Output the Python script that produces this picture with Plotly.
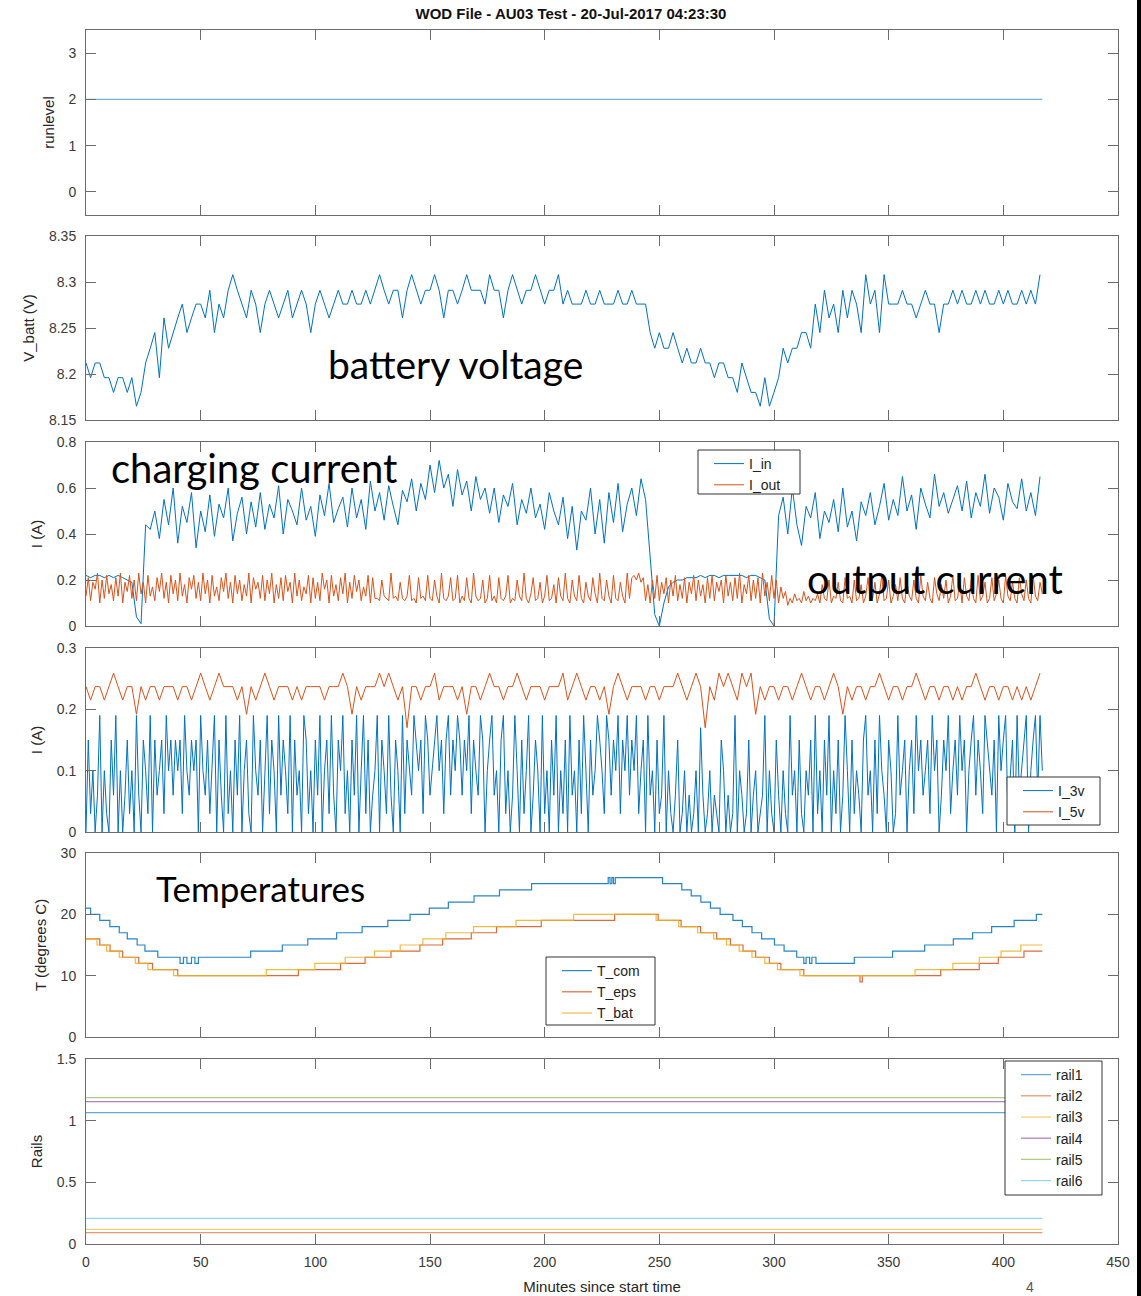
import plotly.graph_objects as go

# ---------------- data ----------------
run_t = [0, 417]
runlevel = [2, 2]

# sampled every 2 minutes
v_batt = [
    8.212, 8.196, 8.212, 8.212, 8.196,
    8.196, 8.18, 8.196, 8.196, 8.18, 8.196,
    8.165, 8.18, 8.212, 8.228,
    8.245, 8.196, 8.261, 8.228, 8.245, 8.261,
    8.276, 8.245, 8.261, 8.276,
    8.276, 8.261, 8.291, 8.245, 8.276, 8.261, 8.291, 8.308,
    8.291, 8.276, 8.261, 8.291, 8.276, 8.245, 8.276, 8.291, 8.276, 8.261,
    8.276, 8.291, 8.261, 8.276, 8.291, 8.276, 8.245, 8.276, 8.291, 8.276,
    8.261, 8.276, 8.291,
    8.276, 8.276, 8.291, 8.276, 8.276, 8.291, 8.276,
    8.291, 8.308, 8.291, 8.276, 8.291, 8.291, 8.261, 8.291, 8.308, 8.291,
    8.276, 8.291, 8.291, 8.308, 8.291, 8.261, 8.291, 8.291, 8.276, 8.291,
    8.308, 8.291, 8.291, 8.291, 8.276, 8.308, 8.291, 8.291, 8.261, 8.291,
    8.308, 8.291, 8.276, 8.291, 8.291, 8.308, 8.291, 8.276, 8.291, 8.291,
    8.308,
    8.276, 8.291, 8.276, 8.276, 8.276, 8.291, 8.276, 8.276, 8.291, 8.276,
    8.276, 8.276, 8.291, 8.276, 8.276, 8.291, 8.276, 8.276, 8.276,
    8.245,
    8.228, 8.245, 8.228, 8.228, 8.245,
    8.228, 8.212, 8.228, 8.212, 8.212, 8.228, 8.212,
    8.212, 8.196, 8.212, 8.212, 8.196,
    8.196, 8.18, 8.212, 8.196, 8.18,
    8.18, 8.165, 8.196, 8.165, 8.18,
    8.196,
    8.228, 8.212, 8.228, 8.228, 8.245,
    8.245, 8.228,
    8.276, 8.245, 8.291, 8.261, 8.276, 8.245, 8.291, 8.261,
    8.291, 8.276, 8.245, 8.308, 8.276, 8.291, 8.245, 8.308, 8.276,
    8.276, 8.276, 8.291, 8.276, 8.276, 8.261, 8.276, 8.291, 8.276, 8.276,
    8.245, 8.276, 8.276,
    8.291, 8.276, 8.291, 8.276, 8.276, 8.291, 8.276, 8.291, 8.276, 8.276,
    8.291, 8.276, 8.291, 8.276, 8.276, 8.291, 8.276, 8.291, 8.276, 8.308,
]

# sampled every 2 minutes
i_in = [
    0.22, 0.21, 0.22, 0.22, 0.21, 0.22, 0.21, 0.22, 0.21, 0.2, 0.19,
    0.04, 0.01, 0.44,
    0.42, 0.5, 0.38, 0.55, 0.44, 0.6, 0.36, 0.52, 0.45, 0.58,
    0.34, 0.5, 0.41, 0.57, 0.39, 0.53, 0.47, 0.6, 0.37, 0.49,
    0.56, 0.4, 0.54, 0.43,
    0.58, 0.42, 0.53, 0.47, 0.61, 0.4, 0.55, 0.5, 0.44, 0.6,
    0.46, 0.52, 0.39, 0.57, 0.48, 0.62, 0.45, 0.51, 0.56, 0.43,
    0.6, 0.47, 0.55, 0.42, 0.63, 0.5, 0.58, 0.46, 0.61, 0.52,
    0.44, 0.59, 0.54, 0.64, 0.5,
    0.62, 0.55, 0.7, 0.58, 0.72, 0.6, 0.66, 0.52, 0.68, 0.57,
    0.63, 0.5, 0.65, 0.55, 0.6,
    0.49, 0.6, 0.45, 0.57, 0.52, 0.62, 0.44, 0.55, 0.49, 0.6,
    0.47, 0.53, 0.42, 0.58, 0.5,
    0.44, 0.56, 0.38, 0.52, 0.33, 0.5, 0.46, 0.6, 0.4, 0.55,
    0.36, 0.58, 0.45, 0.62, 0.41, 0.53, 0.6, 0.48, 0.64,
    0.55, 0.3, 0.05, 0.0, 0.1, 0.17, 0.19,
    0.2, 0.2, 0.21, 0.21, 0.21, 0.22, 0.21, 0.22, 0.22, 0.21,
    0.22, 0.22, 0.22, 0.22, 0.22, 0.21, 0.22, 0.22, 0.21,
    0.2, 0.03, 0.0, 0.48,
    0.56, 0.4, 0.6, 0.44, 0.35, 0.52, 0.47, 0.58, 0.38, 0.5,
    0.45, 0.55, 0.41, 0.6, 0.43, 0.5, 0.37, 0.54, 0.48,
    0.58, 0.44, 0.52, 0.62, 0.46, 0.55, 0.48, 0.65, 0.5, 0.57,
    0.42, 0.6, 0.53, 0.47, 0.66, 0.52, 0.58, 0.49, 0.55, 0.61,
    0.5, 0.63, 0.47, 0.58, 0.52, 0.66, 0.49, 0.6, 0.56, 0.46,
    0.62, 0.54, 0.51, 0.64, 0.5, 0.58, 0.48, 0.65,
]

# sampled every minute
i_out = [
    0.13, 0.21, 0.11, 0.19, 0.16, 0.23, 0.1, 0.2, 0.12, 0.22, 0.14, 0.18, 0.11, 0.21, 0.13, 0.23, 0.1, 0.19, 0.15, 0.22,
    0.12, 0.2, 0.11, 0.23, 0.14, 0.19, 0.1, 0.22, 0.13, 0.17, 0.11, 0.21, 0.15, 0.23, 0.12, 0.19, 0.1, 0.22, 0.14, 0.2,
    0.11, 0.23, 0.13, 0.18, 0.1, 0.21, 0.16, 0.22, 0.12, 0.19, 0.11, 0.23, 0.14, 0.2, 0.1, 0.22, 0.13, 0.17, 0.11, 0.21,
    0.15, 0.23, 0.12, 0.19, 0.1, 0.22, 0.14, 0.2, 0.11, 0.18, 0.13, 0.23, 0.1, 0.21, 0.16, 0.19, 0.12, 0.22, 0.11, 0.2,
    0.14, 0.23, 0.1, 0.18, 0.12, 0.21, 0.11, 0.22, 0.15, 0.19, 0.1, 0.23, 0.13, 0.2, 0.11, 0.17, 0.14, 0.22, 0.1, 0.21,
    0.12, 0.19, 0.11, 0.23, 0.16, 0.2, 0.1, 0.22, 0.13, 0.18, 0.11, 0.21, 0.14, 0.23, 0.1, 0.19, 0.12, 0.22, 0.15, 0.2,
    0.11, 0.17, 0.13, 0.22, 0.1, 0.21, 0.12, 0.12, 0.11, 0.2, 0.13, 0.12, 0.11, 0.23, 0.12, 0.13, 0.11, 0.19, 0.12, 0.11,
    0.13, 0.22, 0.11, 0.12, 0.1, 0.21, 0.12, 0.13, 0.11, 0.22, 0.12, 0.11, 0.2, 0.13, 0.1, 0.23, 0.12, 0.11, 0.13, 0.21,
    0.11, 0.12, 0.22, 0.1, 0.13, 0.11, 0.21, 0.12, 0.1, 0.23, 0.13, 0.11, 0.12, 0.2, 0.1, 0.12, 0.22, 0.11, 0.13, 0.1,
    0.21, 0.12, 0.11, 0.13, 0.22, 0.1, 0.12, 0.11, 0.2, 0.13, 0.11, 0.23, 0.12, 0.1, 0.14, 0.21, 0.11, 0.12, 0.19, 0.1,
    0.13, 0.22, 0.11, 0.12, 0.18, 0.1, 0.21, 0.13, 0.11, 0.23, 0.12, 0.1, 0.2, 0.13, 0.11, 0.22, 0.12, 0.1, 0.19, 0.13,
    0.11, 0.21, 0.14, 0.1, 0.23, 0.12, 0.11, 0.2, 0.13, 0.1, 0.22, 0.12, 0.11, 0.19, 0.13, 0.1, 0.23, 0.12, 0.21, 0.22,
    0.2, 0.23, 0.19, 0.21, 0.11, 0.18, 0.1, 0.2, 0.12, 0.22, 0.11, 0.19, 0.14, 0.21, 0.1, 0.2, 0.13, 0.22, 0.11, 0.18,
    0.12, 0.21, 0.1, 0.19, 0.14, 0.22, 0.11, 0.2, 0.13, 0.18, 0.1, 0.21, 0.12, 0.22, 0.11, 0.19, 0.15, 0.2, 0.1, 0.22,
    0.13, 0.19, 0.11, 0.21, 0.12, 0.23, 0.1, 0.18, 0.14, 0.22, 0.11, 0.2, 0.12, 0.21, 0.1, 0.23, 0.13, 0.19, 0.11, 0.22,
    0.12, 0.2, 0.1, 0.17, 0.12, 0.15, 0.09, 0.12, 0.1, 0.14, 0.11, 0.12, 0.1, 0.15, 0.11, 0.13, 0.1, 0.12, 0.11, 0.14,
    0.1, 0.18, 0.12, 0.11, 0.2, 0.1, 0.13, 0.12, 0.19, 0.11, 0.1, 0.21, 0.12, 0.13, 0.1, 0.2, 0.11, 0.12, 0.18, 0.1,
    0.13, 0.21, 0.11, 0.12, 0.19, 0.1, 0.14, 0.22, 0.11, 0.12, 0.2, 0.1, 0.13, 0.18, 0.11, 0.21, 0.12, 0.1, 0.19, 0.13,
    0.11, 0.2, 0.12, 0.1, 0.22, 0.13, 0.11, 0.19, 0.12, 0.1, 0.21, 0.14, 0.11, 0.18, 0.12, 0.2, 0.1, 0.13, 0.22, 0.11,
    0.12, 0.19, 0.1, 0.21, 0.13, 0.11, 0.2, 0.12, 0.1, 0.22, 0.11, 0.13, 0.19, 0.1, 0.12, 0.21, 0.11, 0.14, 0.2, 0.12,
    0.1, 0.22, 0.13, 0.11, 0.19, 0.12, 0.1, 0.21, 0.14, 0.11, 0.2, 0.12, 0.1, 0.22, 0.13, 0.11, 0.19, 0.14,
]

# sampled every minute
i_3v = [
    0, 0.15, 0.03, 0.1, 0, 0.06, 0.19, 0, 0.1, 0.03, 0, 0.15, 0.06, 0.19, 0, 0.1, 0, 0.06, 0.15, 0.03,
    0.1, 0, 0.19, 0.06, 0, 0.15, 0.1, 0.03, 0.19, 0, 0.15, 0.06, 0.1, 0.15, 0.03, 0.19, 0.1, 0.15, 0.06, 0.15,
    0.1, 0.15, 0.03, 0.19, 0.1, 0.06, 0.15, 0.1, 0.15, 0, 0.19, 0.1, 0.06, 0.15, 0.03, 0.1, 0.19, 0, 0.15, 0.06,
    0, 0.19, 0.03, 0.1, 0, 0.15, 0.06, 0.19, 0, 0.1, 0.15, 0.03, 0, 0.19, 0.1, 0.06, 0.15, 0, 0.1, 0.19,
    0.03, 0.15, 0.1, 0, 0.19, 0.06, 0.15, 0.1, 0.03, 0.19, 0, 0.15, 0.06, 0.1, 0, 0.19, 0.15, 0.03, 0.1, 0,
    0.15, 0.06, 0.19, 0, 0.1, 0.15, 0.03, 0.19, 0.06, 0, 0.15, 0.1, 0.19, 0.03, 0.1, 0, 0.15, 0.06, 0.19, 0,
    0.1, 0.19, 0.03, 0.15, 0, 0.06, 0.1, 0.19, 0, 0.15, 0.1, 0.03, 0.19, 0.06, 0, 0.15, 0.1, 0, 0.19, 0.03,
    0.15, 0.1, 0.06, 0.19, 0.15, 0.1, 0.15, 0.03, 0.19, 0.15, 0.06, 0.1, 0.15, 0.19, 0.1, 0.15, 0.03, 0.15, 0.19, 0.06,
    0.15, 0.1, 0.19, 0.15, 0.06, 0.15, 0.1, 0.19, 0.03, 0.15, 0.1, 0.06, 0.19, 0.15, 0, 0.1, 0.15, 0.19, 0.06, 0.1,
    0, 0.15, 0.19, 0.03, 0.1, 0, 0.06, 0.19, 0.1, 0, 0.15, 0.03, 0.1, 0.19, 0, 0.06, 0.15, 0.1, 0, 0.19,
    0.03, 0.1, 0, 0.15, 0.06, 0.19, 0, 0.1, 0.03, 0.15, 0, 0.19, 0.06, 0.1, 0, 0.15, 0.03, 0.19, 0.1, 0,
    0.15, 0.06, 0.1, 0.19, 0.15, 0.1, 0.03, 0.19, 0.15, 0.06, 0.15, 0.1, 0.19, 0.03, 0.15, 0.1, 0.19, 0.06, 0.15, 0.1,
    0.19, 0.03, 0.1, 0.15, 0, 0.19, 0.06, 0.1, 0, 0.15, 0.03, 0.06, 0.19, 0, 0.1, 0.03, 0, 0.06, 0.15, 0,
    0.03, 0.1, 0, 0.06, 0, 0.03, 0.1, 0, 0.17, 0.06, 0, 0.03, 0.1, 0, 0.06, 0.03, 0, 0.15, 0.1, 0,
    0.06, 0, 0.03, 0.19, 0, 0.1, 0.06, 0, 0.03, 0.15, 0, 0.06, 0.1, 0, 0.03, 0.06, 0.19, 0, 0.1, 0.03,
    0, 0.15, 0.06, 0, 0.1, 0.03, 0, 0.19, 0.06, 0.1, 0, 0.15, 0.03, 0, 0.1, 0.06, 0.15, 0, 0.19, 0.03,
    0.1, 0, 0.15, 0.06, 0.19, 0, 0.1, 0.03, 0.15, 0, 0.06, 0.19, 0.1, 0, 0.15, 0.03, 0.1, 0.06, 0, 0.15,
    0.19, 0.06, 0.1, 0, 0.15, 0.03, 0.19, 0.1, 0.06, 0, 0.15, 0.1, 0, 0.03, 0.19, 0.06, 0.1, 0.15, 0, 0.1,
    0.15, 0.03, 0.19, 0.1, 0.15, 0.06, 0.1, 0.15, 0.03, 0.19, 0.1, 0.15, 0, 0.06, 0.15, 0.1, 0.19, 0.03, 0.1, 0.15,
    0.06, 0.19, 0.1, 0.15, 0, 0.1, 0.15, 0.19, 0.06, 0.15, 0.1, 0.03, 0.19, 0.15, 0.1, 0.06, 0.15, 0, 0.19, 0.1,
    0.15, 0.19, 0.03, 0.1, 0.15, 0, 0.19, 0.06, 0.1, 0.15, 0.19, 0, 0.1, 0.15, 0.19, 0.06, 0.19, 0.1,
]

# sampled every 2 minutes
i_5v = [
    0.237, 0.215, 0.237, 0.237, 0.215, 0.237, 0.259, 0.237, 0.215, 0.237, 0.237, 0.192, 0.237, 0.215, 0.237, 0.237, 0.215, 0.237, 0.237, 0.237,
    0.215, 0.237, 0.237, 0.215, 0.237, 0.259, 0.237, 0.215, 0.237, 0.259, 0.237, 0.237, 0.237, 0.215, 0.237, 0.192, 0.237, 0.215, 0.237, 0.259,
    0.237, 0.215, 0.237, 0.237, 0.237, 0.215, 0.237, 0.215, 0.237, 0.237, 0.237, 0.237, 0.215, 0.237, 0.237, 0.237, 0.259, 0.237, 0.192, 0.237,
    0.215, 0.237, 0.237, 0.237, 0.259, 0.237, 0.259, 0.237, 0.215, 0.237, 0.17, 0.237, 0.237, 0.215, 0.237, 0.237, 0.259, 0.215, 0.237, 0.237,
    0.237, 0.215, 0.237, 0.192, 0.237, 0.237, 0.215, 0.237, 0.259, 0.237, 0.237, 0.215, 0.237, 0.237, 0.259, 0.237, 0.215, 0.237, 0.237, 0.237,
    0.215, 0.237, 0.237, 0.237, 0.259, 0.215, 0.237, 0.259, 0.237, 0.215, 0.237, 0.237, 0.215, 0.237, 0.192, 0.237, 0.259, 0.237, 0.215, 0.237,
    0.237, 0.237, 0.215, 0.237, 0.237, 0.215, 0.237, 0.237, 0.237, 0.259, 0.237, 0.215, 0.237, 0.259, 0.237, 0.17, 0.237, 0.215, 0.259, 0.237,
    0.259, 0.237, 0.215, 0.259, 0.237, 0.259, 0.192, 0.237, 0.215, 0.237, 0.237, 0.215, 0.237, 0.237, 0.215, 0.237, 0.259, 0.237, 0.215, 0.237,
    0.237, 0.215, 0.237, 0.259, 0.237, 0.192, 0.237, 0.215, 0.237, 0.237, 0.215, 0.237, 0.237, 0.259, 0.237, 0.215, 0.237, 0.237, 0.215, 0.237,
    0.237, 0.259, 0.237, 0.215, 0.237, 0.237, 0.215, 0.237, 0.237, 0.215, 0.237, 0.215, 0.237, 0.237, 0.259, 0.237, 0.215, 0.237, 0.237, 0.215,
    0.237, 0.237, 0.215, 0.237, 0.215, 0.237, 0.215, 0.237, 0.259,
]

t_com_t = [0, 2, 6, 10.4, 14.5, 18, 22.3, 25.7, 31.3, 41, 42.5, 44, 46, 47.5, 49, 71.8, 85.6, 96.7, 109.3, 120.4,
           131.6, 141.3, 149.7, 158, 169.2, 180.3, 194.3, 227.7, 228.5, 229.3, 230, 230.8, 251.4, 259.8, 263.9,
           268.1, 272.3, 276.5, 282.1, 286.2, 290.4, 294.6, 300.2, 304.4, 309.9, 313, 314, 315.5, 316.5, 318.3,
           335, 351.7, 365.7, 378.2, 386.6, 394.9, 404.7, 414.4, 417]
t_com_v = [21, 20, 19, 18, 17, 16, 15, 14, 13, 12, 13, 12, 13, 12, 13, 14, 15, 16, 17, 18,
           19, 20, 21, 22, 23, 24, 25, 26, 25, 26, 25, 26, 25, 24, 23,
           22, 21, 20, 19, 18, 17, 16, 15, 14, 13, 12, 13, 12, 13, 12,
           13, 14, 15, 16, 17, 18, 19, 20, 20]

t_eps_t = [0, 6, 10.5, 16, 23, 29, 40, 92.6, 111, 121.7, 133, 145.6, 155.5, 168, 179, 198.5, 230.5, 249.5,
           259.5, 268, 275, 281, 286.5, 292, 298, 303, 313, 337.5, 338.5, 372.7, 389.5, 397.8, 409, 417]
t_eps_v = [16, 15, 14, 13, 12, 11, 10, 11, 12, 13, 14, 15, 16, 17, 18, 19, 20, 19,
           18, 17, 16, 15, 14, 13, 12, 11, 10, 9, 10, 11, 12, 13, 14, 14]

t_bat_t = [0, 4.8, 9, 14.5, 21.5, 27, 38.2, 78.6, 99.8, 113, 125.8, 137, 146.9, 156.9, 169, 187.5, 212.6,
           248.6, 258.4, 266.7, 273.7, 279.3, 284.8, 290.4, 296, 301.5, 311.3, 361.5, 378, 389.5, 399, 407.6, 417]
t_bat_v = [16, 15, 14, 13, 12, 11, 10, 11, 12, 13, 14, 15, 16, 17, 18, 19, 20,
           19, 18, 17, 16, 15, 14, 13, 12, 11, 10, 11, 12, 13, 14, 15, 15]

rail_t = [0, 417]
rail_names = ["rail1", "rail2", "rail3", "rail4", "rail5", "rail6"]
rail_values = [1.065, 0.092, 0.119, 1.154, 1.187, 0.208]

x_ticks = [0, 50, 100, 150, 200, 250, 300, 350, 400, 450]
y_ticks = [
    ([0, 1, 2, 3], ["0", "1", "2", "3"]),
    ([8.15, 8.2, 8.25, 8.3, 8.35], ["8.15", "8.2", "8.25", "8.3", "8.35"]),
    ([0, 0.2, 0.4, 0.6, 0.8], ["0", "0.2", "0.4", "0.6", "0.8"]),
    ([0, 0.1, 0.2, 0.3], ["0", "0.1", "0.2", "0.3"]),
    ([0, 10, 20, 30], ["0", "10", "20", "30"]),
    ([0, 0.5, 1, 1.5], ["0", "0.5", "1", "1.5"]),
]
y_ranges = [[-0.5, 3.5], [8.15, 8.35], [0, 0.8], [0, 0.3], [0, 30], [0, 1.5]]
y_titles = ["runlevel", "V_batt (V)", "I (A)", "I (A)", "T (degrees C)", "Rails"]

# ---------------- layout helpers ----------------
W, H = 1141, 1296
ML, MR, MT, MB = 86, 23, 30, 52
PW, PH = W - ML - MR, H - MT - MB


def pxx(p):
    return (p - ML) / PW


def pyy(p):
    return (H - MB - p) / PH


panels_px = [(30, 215), (236, 420), (442, 626), (648, 832), (853, 1037), (1059, 1244)]

BLUE, ORANGE, YELLOW, PURPLE, GREEN, CYAN = "#0072BD", "#D95319", "#EDB120", "#7E2F8E", "#77AC30", "#4DBEEE"
AX = "#6b6b6b"
TXT = "#3a3a3a"
FONT = "Liberation Sans, Arial, Helvetica, sans-serif"
BIG = "Lato, Carlito, Calibri, sans-serif"


def mins2(series):
    return [2 * i for i in range(len(series))]


def mins1(series):
    return list(range(len(series)))


fig = go.Figure()
# panel 1
fig.add_trace(go.Scatter(x=run_t, y=runlevel, mode="lines", line=dict(color=BLUE, width=1.2),
                         opacity=0.55, xaxis="x", yaxis="y", showlegend=False))
# panel 2
fig.add_trace(go.Scatter(x=mins2(v_batt), y=v_batt, mode="lines", line=dict(color=BLUE, width=1),
                         xaxis="x2", yaxis="y2", showlegend=False))
# panel 3
fig.add_trace(go.Scatter(x=mins2(i_in), y=i_in, mode="lines", name="I_in", line=dict(color=BLUE, width=1),
                         xaxis="x3", yaxis="y3", legend="legend"))
fig.add_trace(go.Scatter(x=mins1(i_out), y=i_out, mode="lines", name="I_out", line=dict(color=ORANGE, width=1),
                         xaxis="x3", yaxis="y3", legend="legend"))
# panel 4
fig.add_trace(go.Scatter(x=mins1(i_3v), y=i_3v, mode="lines", name="I_3v", line=dict(color=BLUE, width=1),
                         xaxis="x4", yaxis="y4", legend="legend2"))
fig.add_trace(go.Scatter(x=mins2(i_5v), y=i_5v, mode="lines", name="I_5v", line=dict(color=ORANGE, width=1),
                         xaxis="x4", yaxis="y4", legend="legend2"))
# panel 5
for nm, tt, vv, col in [("T_com", t_com_t, t_com_v, BLUE), ("T_eps", t_eps_t, t_eps_v, ORANGE),
                        ("T_bat", t_bat_t, t_bat_v, YELLOW)]:
    fig.add_trace(go.Scatter(x=tt, y=vv, mode="lines", name=nm, line=dict(color=col, width=1.2, shape="hv"),
                             opacity=0.85, xaxis="x5", yaxis="y5", legend="legend3"))
# panel 6
for nm, val, col in zip(rail_names, rail_values, [BLUE, ORANGE, YELLOW, PURPLE, GREEN, CYAN]):
    fig.add_trace(go.Scatter(x=rail_t, y=[val, val], mode="lines", name=nm, line=dict(color=col, width=1.3),
                             opacity=0.6, xaxis="x6", yaxis="y6", legend="legend4"))

layout = dict(
    width=W, height=H, margin=dict(l=ML, r=MR, t=MT, b=MB),
    plot_bgcolor="white", paper_bgcolor="white",
    font=dict(family=FONT, size=14, color=TXT),
    title=dict(text="<b>WOD File - AU03 Test - 20-Jul-2017 04:23:30</b>", x=571 / W, xanchor="center",
               y=1 - 14 / H, yanchor="middle", font=dict(family=FONT, size=15, color="#111111")),
)

for k in range(6):
    top, bot = panels_px[k]
    sfx = "" if k == 0 else str(k + 1)
    last = k == 5
    layout["xaxis" + sfx] = dict(
        domain=[0, 1], range=[0, 450], tickvals=x_ticks, ticktext=[str(v) for v in x_ticks],
        ticks="inside", ticklen=10, tickcolor=AX, showline=True, linecolor=AX, linewidth=1,
        mirror="ticks", showgrid=False, zeroline=False, anchor="y" + sfx,
        showticklabels=last, tickfont=dict(size=14, color=TXT), ticklabelstandoff=5,
        title=dict(text="Minutes since start time" if last else "", font=dict(size=15, color="#262626"),
                   standoff=12),
        automargin=False,
    )
    tv, tt = y_ticks[k]
    layout["yaxis" + sfx] = dict(
        domain=[pyy(bot), pyy(top)], range=y_ranges[k], tickvals=tv, ticktext=tt,
        ticks="inside", ticklen=10, tickcolor=AX, showline=True, linecolor=AX, linewidth=1,
        mirror="ticks", showgrid=False, zeroline=False, anchor="x" + sfx,
        tickfont=dict(size=14, color=TXT), ticklabelstandoff=6,
        title=dict(text=y_titles[k], font=dict(size=15, color="#262626"), standoff=10),
        automargin=False,
    )

# legend boxes (pixel rectangles) drawn as shapes; legends sit inside them without own border
legend_boxes = {"legend": (698, 450, 800, 494), "legend2": (1007, 777, 1100, 825),
                "legend3": (546, 957, 655, 1025), "legend4": (1005, 1061, 1102, 1195)}
shapes = []
for key, (x0, y0, x1, y1) in legend_boxes.items():
    layout[key] = dict(x=pxx(x0 + 11), y=pyy(y0 - 2), xanchor="left", yanchor="top",
                       bgcolor="rgba(0,0,0,0)", borderwidth=0, font=dict(size=14, color="#222222"),
                       tracegroupgap=0)
    shapes.append(dict(type="rect", xref="paper", yref="paper", x0=pxx(x0), x1=pxx(x1), y0=pyy(y1), y1=pyy(y0),
                       fillcolor="white", line=dict(color="#333333", width=1), layer="above"))

annotations = []
for text, cx, cy, size in [("battery voltage", 455, 364, 39), ("charging current", 254, 468, 40),
                           ("output current", 935, 579, 40), ("Temperatures", 260, 888, 35)]:
    annotations.append(dict(text=text, x=pxx(cx), y=pyy(cy), xref="paper", yref="paper", showarrow=False,
                            xanchor="center", yanchor="middle", font=dict(family=BIG, size=size, color="black")))
annotations.append(dict(text="4", x=pxx(1030), y=pyy(1287), xref="paper", yref="paper", showarrow=False,
                        xanchor="center", yanchor="middle", font=dict(family=FONT, size=14, color="#555555")))
layout["annotations"] = annotations
shapes.append(dict(type="rect", xref="paper", yref="paper", x0=pxx(1137), x1=pxx(1142),
                   y0=pyy(1300), y1=pyy(-4), fillcolor="black", line=dict(width=0), layer="above"))
layout["shapes"] = shapes

fig.update_layout(**layout)
fig.write_html("out.html")
